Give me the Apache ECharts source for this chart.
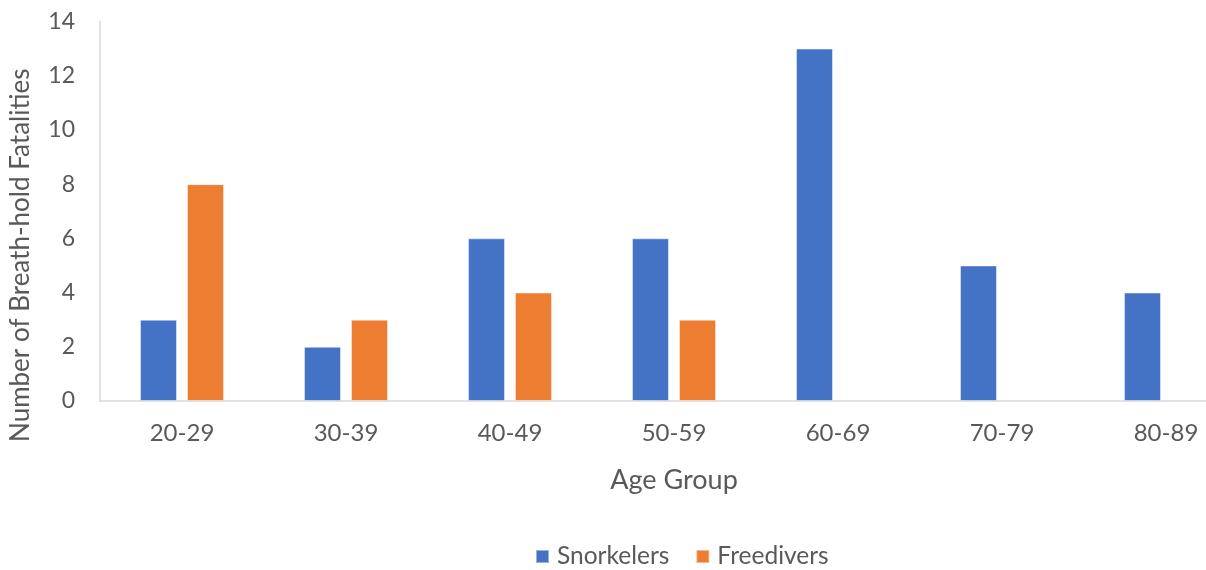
<!DOCTYPE html>
<html>
<head>
<meta charset="utf-8">
<script src="https://cdn.jsdelivr.net/npm/echarts@6/dist/echarts.min.js"></script>
<style>
  html, body { margin: 0; padding: 0; background: #fff; }
  #chart { width: 1206px; height: 570px; }
</style>
</head>
<body>
<div id="chart"></div>
<script>
// Breath-hold fatalities by age group
const ageGroups = ['20-29', '30-39', '40-49', '50-59', '60-69', '70-79', '80-89'];
const snorkelers = [3, 2, 6, 6, 13, 5, 4];
const freedivers = [8, 3, 4, 3, null, null, null];
const seriesNames = ['Snorkelers', 'Freedivers'];

const FONT = 'Lato, "Open Sans", sans-serif';
const TEXT = '#595959';

const chart = echarts.init(document.getElementById('chart'), null, { renderer: 'canvas' });

chart.setOption({
  animation: false,
  backgroundColor: '#ffffff',
  textStyle: { fontFamily: FONT, color: TEXT },
  // the plot runs a little past the right edge of the canvas
  grid: { left: 100, top: 21.5, right: -42, height: 379.5, containLabel: false, outerBoundsMode: 'none' },
  legend: {
    data: seriesNames,
    bottom: -4,
    left: 530,
    itemWidth: 13,
    itemHeight: 13,
    itemGap: 26,
    icon: 'rect',
    textStyle: { fontFamily: FONT, fontSize: 24.5, color: TEXT, padding: [0, 0, 0, 3] }
  },
  xAxis: {
    type: 'category',
    data: ageGroups,
    name: 'Age Group',
    nameLocation: 'middle',
    nameGap: 66,
    nameTextStyle: { fontFamily: FONT, fontSize: 27, color: TEXT },
    axisLine: { lineStyle: { color: '#d9d9d9', width: 1.5 } },
    axisTick: { show: false },
    axisLabel: { fontFamily: FONT, fontSize: 24, color: TEXT, margin: 20 }
  },
  yAxis: {
    type: 'value',
    min: 0,
    max: 14,
    interval: 2,
    name: 'Number of Breath-hold Fatalities',
    nameLocation: 'middle',
    nameGap: 66,
    nameTextStyle: { fontFamily: FONT, fontSize: 26, color: TEXT, padding: [0, 88, 0, 0] },
    axisLine: { show: true, lineStyle: { color: '#d9d9d9', width: 1.5 } },
    axisTick: { show: false },
    splitLine: { show: false },
    axisLabel: { fontFamily: FONT, fontSize: 23, color: TEXT, margin: 25 }
  },
  series: [
    {
      name: seriesNames[0],
      type: 'bar',
      data: snorkelers,
      barWidth: 37,
      barGap: '27%',
      itemStyle: { color: '#4472C4', borderColor: 'rgba(255,255,255,0.45)', borderWidth: 1 }
    },
    {
      name: seriesNames[1],
      type: 'bar',
      data: freedivers,
      barWidth: 37,
      barGap: '27%',
      itemStyle: { color: '#ED7D31', borderColor: 'rgba(255,255,255,0.45)', borderWidth: 1 }
    }
  ]
});
</script>
</body>
</html>
